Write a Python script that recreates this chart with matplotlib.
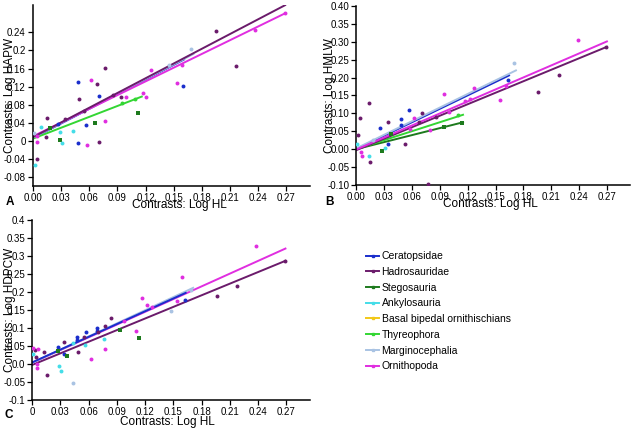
import numpy as np
import matplotlib
matplotlib.use('Agg')
import matplotlib.pyplot as plt
from matplotlib.lines import Line2D
from matplotlib.ticker import FuncFormatter

plt.rcParams['font.family'] = ['Liberation Sans', 'DejaVu Sans']

groups = ['Ceratopsidae', 'Hadrosauridae', 'Stegosauria', 'Ankylosauria',
          'Basal bipedal ornithischians', 'Thyreophora', 'Marginocephalia', 'Ornithopoda']
colors = ['#1a2ecc', '#6b1b6b', '#1d7a1d', '#44dde8', '#f2c818', '#33d633', '#a9c3e3', '#e02ee0']

# panel A: Log HAPW, points (x, y) per group
pts_a = {
    'Ceratopsidae': ([0.0268, 0.0476, 0.0701, 0.0564, 0.0483, 0.160],
                     [0.038, 0.130, 0.100, 0.036, -0.005, 0.122]),
    'Hadrosauridae': ([0.0046, 0.0148, 0.0141, 0.0338, 0.0497, 0.0546, 0.0687, 0.0765, 0.0705, 0.0849, 0.0941, 0.1946, 0.216],
                      [-0.040, 0.050, 0.008, 0.048, 0.092, 0.067, 0.126, 0.162, -0.002, 0.101, 0.096, 0.244, 0.165]),
    'Stegosauria': ([0.0187, 0.0286, 0.0663, 0.1124],
                    [0.029, 0.002, 0.040, 0.062]),
    'Ankylosauria': ([0.0025, 0.0085, 0.0286, 0.0307, 0.043],
                     [-0.054, 0.031, 0.019, -0.004, 0.022]),
    'Thyreophora': ([0.095, 0.109], [0.083, 0.093]),
    'Marginocephalia': ([0.001, 0.145, 0.1685], [0.017, 0.168, 0.204]),
    'Ornithopoda': ([0.0046, 0.004, 0.0617, 0.058, 0.0772, 0.0994, 0.117, 0.121, 0.126, 0.154, 0.159, 0.237, 0.2686],
                    [0.011, -0.002, 0.135, -0.008, 0.044, 0.097, 0.107, 0.096, 0.156, 0.128, 0.168, 0.246, 0.282]),
}
# regression lines: (x_end, y_at_0, y_at_end)
fit_a = {
    'Ceratopsidae': (0.161, 0.006, 0.180),
    'Thyreophora': (0.116, 0.005, 0.098),
    'Marginocephalia': (0.171, 0.007, 0.192),
    'Ornithopoda': (0.2686, 0.010, 0.282),
    'Hadrosauridae': (0.2686, 0.008, 0.300),
}

# panel B: Log HMLW
pts_b = {
    'Ceratopsidae': ([0.026, 0.048, 0.048, 0.057, 0.034, 0.163],
                     [0.060, 0.085, 0.068, 0.109, 0.015, 0.194]),
    'Hadrosauridae': ([0.0018, 0.0046, 0.0135, 0.015, 0.0346, 0.053, 0.071, 0.077, 0.068, 0.0855, 0.196, 0.218, 0.2686],
                      [0.039, 0.087, 0.130, -0.037, 0.075, 0.015, 0.101, -0.098, 0.075, 0.090, 0.159, 0.207, 0.285]),
    'Stegosauria': ([0.028, 0.037, 0.094, 0.114],
                    [-0.005, 0.042, 0.063, 0.074]),
    'Ankylosauria': ([0.014, 0.031, 0.0005], [-0.018, 0.002, 0.014]),
    'Thyreophora': ([0.110], [0.095]),
    'Marginocephalia': ([0.170, 0.0185], [0.242, 0.025]),
    'Ornithopoda': ([0.005, 0.006, 0.0627, 0.058, 0.079, 0.095, 0.100, 0.117, 0.1225, 0.1265, 0.155, 0.161, 0.239],
                    [-0.008, -0.020, 0.088, 0.056, 0.053, 0.155, 0.103, 0.134, 0.141, 0.171, 0.136, 0.177, 0.306]),
}
fit_b = {
    'Stegosauria': (0.115, 0.0, 0.075),
    'Thyreophora': (0.115, 0.0, 0.096),
    'Ceratopsidae': (0.1646, 0.0, 0.206),
    'Marginocephalia': (0.172, 0.002, 0.220),
    'Hadrosauridae': (0.27, -0.003, 0.286),
    'Ornithopoda': (0.27, -0.001, 0.301),
}

# panel C: Log HDPCW
pts_c = {
    'Ceratopsidae': ([0.0276, 0.034, 0.0478, 0.0478, 0.0574, 0.069, 0.069, 0.162],
                     [0.048, 0.028, 0.075, 0.065, 0.088, 0.0995, 0.091, 0.178]),
    'Hadrosauridae': ([0.003, 0.0046, 0.0128, 0.0156, 0.034, 0.049, 0.0546, 0.0695, 0.0776, 0.084, 0.1967, 0.218, 0.269],
                      [0.039, 0.019, 0.033, -0.031, 0.062, 0.033, 0.074, 0.088, 0.106, 0.128, 0.189, 0.216, 0.286]),
    'Stegosauria': ([0.027, 0.0369, 0.0935, 0.1134], [0.037, 0.021, 0.093, 0.073]),
    'Ankylosauria': ([0.0014, 0.0287, 0.031, 0.043, 0.056, 0.0765],
                     [0.028, -0.005, -0.019, 0.057, 0.053, 0.069]),
    'Marginocephalia': ([0.043, 0.147, 0.1687], [-0.052, 0.148, 0.206]),
    'Ornithopoda': ([0.0007, 0.0064, 0.005, 0.005, 0.0627, 0.077, 0.0978, 0.110, 0.117, 0.122, 0.127, 0.154, 0.159, 0.238],
                    [0.044, 0.040, -0.012, -0.001, 0.013, 0.042, 0.119, 0.092, 0.183, 0.162, 0.158, 0.174, 0.241, 0.326]),
}
fit_c = {
    'Hadrosauridae': (0.269, -0.003, 0.286),
    'Ornithopoda': (0.269, 0.003, 0.320),
    'Marginocephalia': (0.171, 0.003, 0.211),
    'Ceratopsidae': (0.163, 0.004, 0.197),
}

col = dict(zip(groups, colors))


def fmt_g(v, pos):
    return '%g' % round(v, 4)


def fmt_g0(v, pos):
    if abs(v) < 1e-9:
        return '0.0'
    return '%g' % round(v, 4)


def fmt_2(v, pos):
    return '%.2f' % v


def panel(ax, pts, fits, ylab, letter, yticks, ylim, xfmt, yfmt, xl_pos, yl_x, let_pos):
    for g, (xe, y0, y1) in fits.items():
        ax.plot([0, xe], [y0, y1], color=col[g], lw=1.4, zorder=2)
    for g, (xs, ys) in pts.items():
        mk = 's' if g == 'Stegosauria' else 'o'
        ax.scatter(xs, ys, s=8, marker=mk, color=col[g], lw=0, zorder=3)
    ax.set_xlim(0, 0.295)
    ax.set_ylim(*ylim)
    ax.set_xticks(np.arange(0, 0.271, 0.03))
    ax.set_yticks(yticks)
    ax.xaxis.set_major_formatter(FuncFormatter(xfmt))
    ax.yaxis.set_major_formatter(FuncFormatter(yfmt))
    ax.spines['top'].set_visible(False)
    ax.spines['right'].set_visible(False)
    for s in ['left', 'bottom']:
        ax.spines[s].set_linewidth(1.1)
    ax.tick_params(labelsize=7, length=3.5, width=0.9, pad=1.5)
    ax.set_xlabel('Contrasts: Log HL', fontsize=8.5)
    ax.set_ylabel(ylab, fontsize=8.5)
    ax.xaxis.set_label_coords(*xl_pos)
    ax.yaxis.set_label_coords(yl_x, 0.5)
    ax.text(let_pos[0], let_pos[1], letter, transform=ax.transAxes, fontsize=8.5,
            fontweight='bold', ha='center', va='center')


fig = plt.figure(figsize=(6.43, 4.3), dpi=100)
ax_a = fig.add_axes([0.051, 0.567, 0.431, 0.421])
ax_b = fig.add_axes([0.554, 0.570, 0.426, 0.416])
ax_c = fig.add_axes([0.050, 0.070, 0.432, 0.419])

panel(ax_a, pts_a, fit_a, 'Contrasts: Log HAPW', 'A',
      np.arange(-0.08, 0.241, 0.04), (-0.1, 0.3), fmt_2, fmt_g,
      (0.53, -0.072), -0.06, (-0.083, -0.088))
panel(ax_b, pts_b, fit_b, 'Contrasts: Log HMLW', 'B',
      np.arange(-0.10, 0.401, 0.05), (-0.1, 0.4), fmt_2, fmt_2,
      (0.49, -0.072), -0.075, (-0.099, -0.095))
panel(ax_c, pts_c, fit_c, 'Contrasts: Log HDPCW', 'C',
      np.arange(-0.10, 0.401, 0.05), (-0.1, 0.4), fmt_g, fmt_g0,
      (0.486, -0.089), -0.058, (-0.086, -0.083))

handles = [Line2D([], [], color=c, lw=1.4, marker='s', markersize=2,
                  markevery=[0]) for c in colors]
fig.legend(handles, groups, loc='upper left', bbox_to_anchor=(0.561, 0.428),
           frameon=False, fontsize=7.5, handlelength=1.3, handletextpad=0.2,
           labelspacing=0.55, borderpad=0)

fig.savefig('out.png', dpi=100)
